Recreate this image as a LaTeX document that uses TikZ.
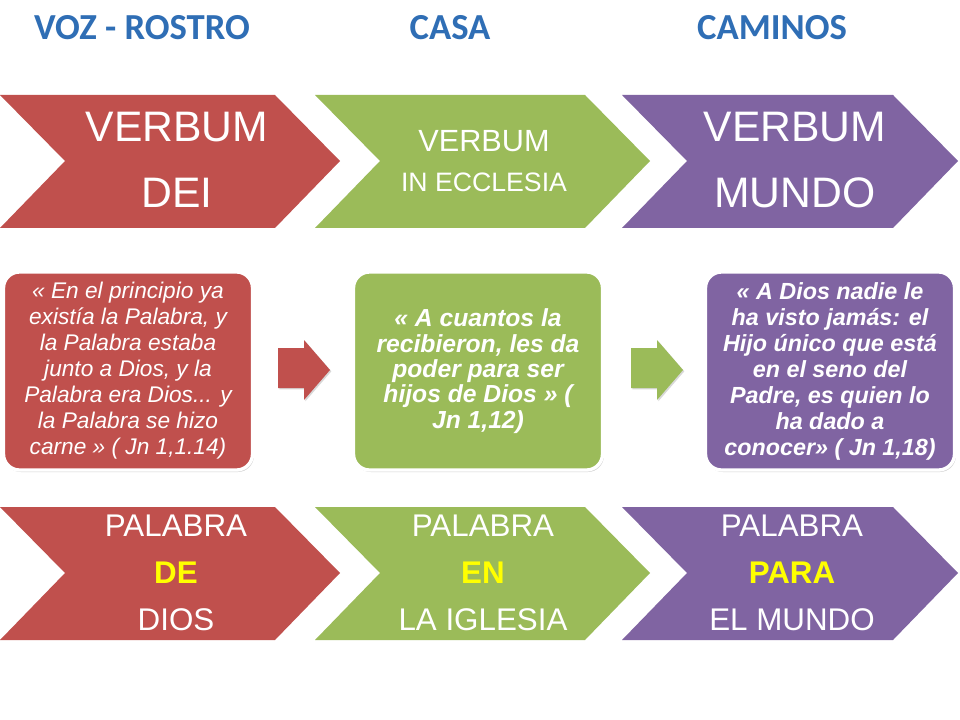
\documentclass[tikz,border=0pt]{standalone}
\usepackage{fontspec}
\setmainfont{Liberation Sans}
\newfontfamily\hdfont{Carlito}
\usetikzlibrary{shadows}
\definecolor{cred}{HTML}{C0504D}
\definecolor{cgreen}{HTML}{9BBB59}
\definecolor{cpurple}{HTML}{8064A2}
\definecolor{chead}{HTML}{2F6EB5}
\definecolor{cyel}{HTML}{FFFF00}
\begin{document}
\begin{tikzpicture}[x=0.75pt,y=-0.75pt,
  hd/.style={font=\hdfont\bfseries\fontsize{27.5}{28}\selectfont,text=chead},
  quote/.style={rounded corners=12pt,draw=white,line width=2.5pt,text=white,align=center,
     drop shadow={shadow xshift=1pt,shadow yshift=-1.5pt,opacity=0.35},
     minimum width=249*0.75pt,minimum height=198*0.75pt,inner sep=2pt},
  big/.style={text=white,align=center,font=\fontsize{32}{49.5}\selectfont},
  bot/.style={text=white,align=center,font=\fontsize{23.5}{35}\selectfont}]
\useasboundingbox (0,0) rectangle (960,720);
\fill[white] (0,0) rectangle (960,720);
% headers
\node[hd] (h1) at (142,28) {VOZ - ROSTRO};
\node[hd] (h2) at (450,28) {CASA};
\node[hd] (h3) at (772,28) {CAMINOS};
% top chevrons
\fill[cred] (0,95)--(275,95)--(340,161)--(275,228)--(0,228)--(65,161)--cycle;
\fill[cgreen] (315,95)--(585,95)--(650,161)--(585,228)--(315,228)--(380,161)--cycle;
\fill[cpurple] (622,95)--(893,95)--(958,161)--(893,228)--(622,228)--(687,161)--cycle;
\node[big] (t1) at (177,160) {VERBUM\\DEI};
\node[text=white,align=center] (t2) at (484,161) {\fontsize{23}{23}\selectfont VERBUM\\[15pt]\fontsize{20}{20}\selectfont IN ECCLESIA};
\node[big] (t3) at (795,160) {VERBUM\\MUNDO};
% bottom chevrons
\fill[cred] (0,507)--(275,507)--(340,573)--(275,640)--(0,640)--(65,573)--cycle;
\fill[cgreen] (315,507)--(585,507)--(650,573)--(585,640)--(315,640)--(380,573)--cycle;
\fill[cpurple] (622,507)--(893,507)--(958,573)--(893,640)--(622,640)--(687,573)--cycle;
\node[bot] (b1) at (176,573) {PALABRA\\\textcolor{cyel}{\bfseries DE}\\DIOS};
\node[bot] (b2) at (483,573) {PALABRA\\\textcolor{cyel}{\bfseries EN}\\LA IGLESIA};
\node[bot] (b3) at (792,573) {PALABRA\\\textcolor{cyel}{\bfseries PARA}\\EL MUNDO};
% quote boxes
\node[quote,fill=cred,font=\itshape\fontsize{17}{19.5}\selectfont] (q1) at (128,371) {« En el principio ya\\existía la Palabra, y\\la Palabra estaba\\junto a Dios, y la\\Palabra era Dios... y\\la Palabra se hizo\\carne » ( Jn 1,1.14)};
\node[quote,fill=cgreen,font=\bfseries\itshape\fontsize{18.5}{19}\selectfont] (q2) at (478,371) {« A cuantos la\\recibieron, les da\\poder para ser\\hijos de Dios » (\\Jn 1,12)};
\node[quote,fill=cpurple,font=\bfseries\itshape\fontsize{17.5}{19.5}\selectfont] (q3) at (830,371) {« A Dios nadie le\\ha visto jamás: el\\Hijo único que está\\en el seno del\\Padre, es quien lo\\ha dado a\\conocer» ( Jn 1,18)};
% block arrows
\fill[cred,drop shadow={shadow xshift=1pt,shadow yshift=-1pt,opacity=0.3}] (278,348)--(304,348)--(304,340)--(330,370)--(304,400)--(304,388)--(278,388)--cycle;
\fill[cgreen,drop shadow={shadow xshift=1pt,shadow yshift=-1pt,opacity=0.3}] (631,348)--(657,348)--(657,340)--(683,370)--(657,400)--(657,388)--(631,388)--cycle;
\end{tikzpicture}
\end{document}
